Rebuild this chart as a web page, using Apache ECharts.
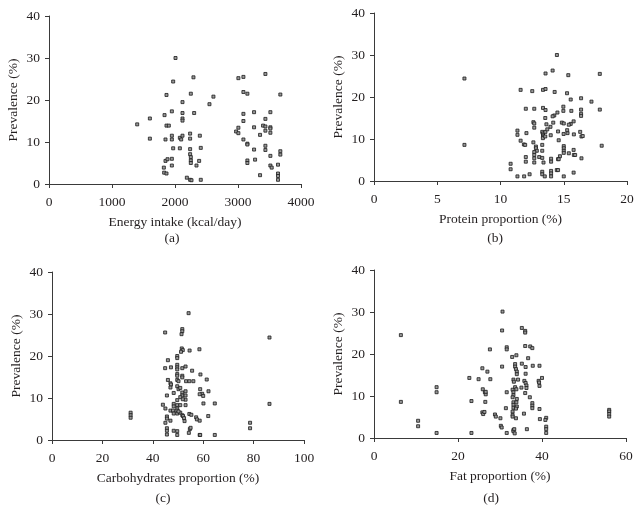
<!DOCTYPE html>
<html><head><meta charset="utf-8">
<script src="https://cdn.jsdelivr.net/npm/echarts@6/dist/echarts.min.js"></script>
<style>html,body{margin:0;padding:0;background:#fff}#c{width:640px;height:528px}</style>
</head><body><div id="c"></div>
<script>
// Prevalence (%) vs energy intake (kcal/day)
const energyX = [1400,1601,1601,2008,1971,1865,2293,2251,2119,2547,2610,1834,1950,2119,2119,2119,2304,1865,1902,1849,1950,1950,2077,2119,2098,2240,2240,2394,1971,2077,2240,2409,1849,1881,1950,1950,1823,1828,1865,2240,2251,2251,2251,2383,2341,2188,2240,2262,2409,
 3006,3086,3435,3086,3149,3672,3086,3255,3514,3086,3435,2970,3006,3006,3255,3398,3435,3435,3350,3514,3514,3514,3086,3149,3149,3435,3435,3255,3514,3672,3672,3149,3149,3271,3514,3535,3635,3350,3635,3635,3635];
const energyY = [14.2,15.6,10.8,30.0,24.4,21.2,25.4,21.5,19.5,19.0,20.8,16.4,17.3,16.9,15.6,15.1,16.9,13.9,13.9,10.6,11.5,10.6,11.0,11.5,10.6,12.0,10.8,11.5,8.5,8.5,8.3,8.6,5.5,5.9,6.0,4.4,3.9,2.7,2.5,7.1,6.4,5.6,5.0,5.5,4.4,1.5,1.0,0.9,1.0,
 25.2,25.5,26.2,21.9,21.5,21.3,16.7,17.1,17.1,15.0,15.5,12.5,12.1,13.4,13.5,13.9,13.7,12.7,11.7,13.5,13.2,12.2,10.6,9.6,9.4,9.1,8.1,8.2,6.7,7.8,7.0,5.6,5.0,5.8,4.4,3.9,4.6,2.1,2.5,1.9,1.0];

// Prevalence (%) vs protein proportion (%)
const proteinX = [7.15,7.15,14.46,13.56,14.12,15.36,17.85,11.59,12.51,13.36,13.56,14.28,15.26,15.55,16.37,17.19,17.85,12.0,12.67,13.36,13.56,14.97,14.97,14.25,14.12,14.5,13.54,15.6,16.37,16.37,16.37,12.6,12.67,12.67,13.63,14.17,14.85,15.0,15.55,15.4,15.78,11.34,11.34,12.05,13.3,13.35,13.36,13.4,13.35,13.97,13.55,13.54,14.55,14.99,15.3,15.27,15.8,16.3,16.4,16.5,11.59,11.85,11.95,12.6,12.8,12.8,12.87,12.67,12.67,12.67,12.67,13.06,13.3,13.3,13.3,13.4,12.0,12.0,14.0,14.0,14.55,15.0,15.0,15.0,15.0,14.7,14.6,15.4,15.8,15.9,15.78,16.4,18.0,10.8,10.8,11.34,11.87,12.3,13.3,13.3,13.5,14.0,14.0,14.0,14.45,14.55,15.0,15.78,14.6,13.95,13.7];
const proteinY = [24.4,8.6,30.0,25.6,26.3,25.2,25.5,21.7,21.4,21.7,21.9,21.2,20.9,19.4,19.7,18.9,17.0,17.2,17.2,17.4,16.9,17.7,16.7,15.6,15.4,16.3,15.0,16.7,17.0,16.0,15.5,14.0,13.7,12.7,13.5,13.9,13.9,13.7,13.6,13.4,14.2,12.0,11.0,11.4,11.7,11.3,10.9,10.6,10.2,10.9,11.7,10.6,11.8,11.2,11.4,12.1,11.1,11.7,10.6,10.7,9.6,8.7,8.6,9.2,8.2,7.8,7.2,6.9,6.2,5.4,4.4,5.7,8.6,7.2,5.5,4.4,5.7,4.6,5.3,4.6,5.2,8.3,7.8,7.2,6.7,5.9,5.2,6.6,6.2,6.2,7.4,5.4,8.4,4.1,2.8,1.1,1.1,1.6,2.2,1.6,1.1,2.4,1.8,1.1,2.6,2.6,1.1,2.0,9.7,12.9,12.3];

// Prevalence (%) vs carbohydrates proportion (%)
const carbX = [54.2,44.9,51.7,51.7,51.4,86.3,86.3,31.2,31.2,31.2,78.6,78.6,58.5,51.5,51.9,51.2,54.6,46.0,44.9,47.2,49.7,49.7,49.7,49.7,49.7,51.7,53.0,55.6,49.7,49.7,51.7,51.7,46.0,47.0,47.2,49.7,50.2,53.2,54.5,56.1,58.9,61.4,47.0,49.7,50.2,50.9,51.7,51.7,53.0,53.0,53.0,48.3,45.6,50.9,51.9,49.7,58.8,59.6,60.0,62.1,58.6,60.1,64.6,44.0,48.3,48.3,49.7,49.7,49.7,50.9,53.0,45.0,47.0,48.0,48.3,49.7,50.9,50.2,54.5,55.3,51.7,52.0,52.4,57.2,57.5,58.6,62.0,45.6,45.6,47.0,45.0,52.6,54.7,55.0,54.3,45.6,45.6,45.6,48.3,49.7,49.7,58.6,58.8,64.6];
const carbY = [30.2,25.6,26.4,25.9,25.2,24.4,8.6,6.5,5.9,5.3,4.1,2.8,21.6,21.8,21.4,21.0,21.3,19.0,17.1,17.3,20.0,19.5,17.9,17.3,16.8,17.1,17.5,16.5,15.7,15.3,15.3,14.9,14.3,13.5,13.2,14.3,14.0,14.0,14.0,14.0,15.6,14.4,12.5,12.8,12.1,12.4,11.3,10.6,11.6,10.6,9.6,11.2,10.6,10.2,9.7,9.5,12.1,11.0,10.5,11.6,10.9,8.7,8.7,8.4,8.6,8.0,8.3,7.5,7.0,8.3,8.3,7.5,7.0,7.0,6.3,6.3,6.5,6.8,6.2,6.0,5.9,5.7,5.2,5.4,4.9,4.6,5.7,5.6,5.1,4.6,4.1,4.5,2.6,2.9,1.7,2.8,2.2,1.3,2.2,2.1,1.2,1.2,1.2,1.2];

// Prevalence (%) vs fat proportion (%)
const fatX = [6.4,6.4,10.5,10.5,14.9,14.9,14.9,22.7,23.2,23.2,24.9,25.8,25.9,27.0,27.7,27.6,26.4,26.6,26.5,26.6,25.8,26.0,26.3,28.8,29.0,30.1,30.2,30.4,30.5,30.6,30.5,31.6,31.6,31.6,31.4,31.6,32.9,33.9,33.2,33.3,33.0,33.2,33.2,33.0,33.2,33.2,33.2,33.0,33.0,33.0,33.2,33.2,33.4,33.5,33.6,33.6,33.8,34.0,34.0,33.6,33.9,34.3,34.0,33.9,34.0,33.8,33.8,35.1,35.2,35.2,36.0,36.0,36.0,36.1,36.1,35.8,36.1,36.3,36.3,36.0,35.7,36.4,36.7,37.2,37.7,37.8,37.1,37.7,37.7,37.7,39.4,39.2,39.3,39.4,40.0,39.4,39.5,41.0,40.8,41.0,41.0,41.0,56.0,56.0,56.0,56.0];
const fatY = [24.5,8.6,4.1,2.8,12.1,10.9,1.2,14.3,8.8,1.2,14.0,16.6,11.6,15.8,14.0,21.1,10.9,10.4,8.6,11.0,6.1,5.7,6.2,5.6,5.1,4.7,2.9,2.5,25.6,30.1,17.0,21.6,21.1,10.9,7.1,1.2,19.3,19.7,13.9,13.4,11.5,10.9,10.2,9.7,8.5,7.9,7.2,6.3,5.5,5.1,1.9,1.6,2.1,1.1,17.6,17.0,16.4,15.8,15.2,12.1,11.6,13.9,9.3,8.5,7.5,7.0,4.7,12.0,17.7,26.2,25.5,25.1,21.9,16.9,15.3,13.6,13.1,12.5,11.9,10.7,5.8,2.1,19.0,21.8,21.4,17.2,9.7,8.3,7.7,7.1,17.2,13.6,13.2,12.4,14.3,6.9,4.5,4.8,4.3,2.7,2.1,1.2,6.7,6.3,5.7,5.1];

const yTicks = [0, 40, 10];
const panels = [
  {x: energyX, y: energyY, name: 'Energy intake (kcal/day)', max: 4000, interval: 1000, tag: '(a)'},
  {x: proteinX, y: proteinY, name: 'Protein proportion (%)', max: 20, interval: 5, tag: '(b)'},
  {x: carbX, y: carbY, name: 'Carbohydrates proportion (%)', max: 100, interval: 20, tag: '(c)'},
  {x: fatX, y: fatY, name: 'Fat proportion (%)', max: 60, interval: 20, tag: '(d)'}
];

const FONT = 'Liberation Serif';
const TXT = '#231f20';
const AX = '#3a3a3a';
const grids = [
  {left: 49, top: 16, width: 252, height: 168},
  {left: 374, top: 13, width: 253, height: 168},
  {left: 52, top: 272, width: 252, height: 168},
  {left: 374, top: 270, width: 252, height: 168}
];
const tagPos = [[172, 238], [495, 238], [163, 498], [491, 498]];

function axisBase(i) {
  return {
    gridIndex: i, type: 'value', nameLocation: 'middle',
    nameTextStyle: {fontFamily: FONT, fontSize: 13.5, color: TXT},
    axisLine: {show: true, onZero: false, lineStyle: {color: AX, width: 1}},
    axisTick: {show: true, length: 4, lineStyle: {color: AX, width: 1}},
    axisLabel: {fontFamily: FONT, fontSize: 13.5, color: TXT, margin: 9, formatter: v => String(v)},
    splitLine: {show: false}
  };
}

const option = {
  animation: false,
  backgroundColor: '#fff',
  grid: grids,
  xAxis: panels.map((p, i) => {
    const a = Object.assign(axisBase(i), {min: 0, max: p.max, interval: p.interval, name: p.name, nameGap: 31});
    a.axisLabel.margin = 11;
    return a;
  }),
  yAxis: panels.map((p, i) => Object.assign(axisBase(i), {
    min: yTicks[0], max: yTicks[1], interval: yTicks[2], name: 'Prevalence (%)', nameGap: 29
  })),
  series: panels.map((p, i) => ({
    type: 'scatter', xAxisIndex: i, yAxisIndex: i,
    symbol: 'rect', symbolSize: 3,
    itemStyle: {color: '#9a9a9a', borderColor: '#1a1a1a', borderWidth: 0.8, opacity: 1},
    data: p.x.map((v, k) => [v, p.y[k]])
  })),
  graphic: panels.map((p, i) => ({
    type: 'text', x: tagPos[i][0], y: tagPos[i][1],
    style: {text: p.tag, font: '13.5px "' + FONT + '"', fill: TXT, textAlign: 'center', textVerticalAlign: 'middle'}
  }))
};

const chart = echarts.init(document.getElementById('c'), null, {renderer: 'canvas'});
chart.setOption(option);
</script></body></html>
